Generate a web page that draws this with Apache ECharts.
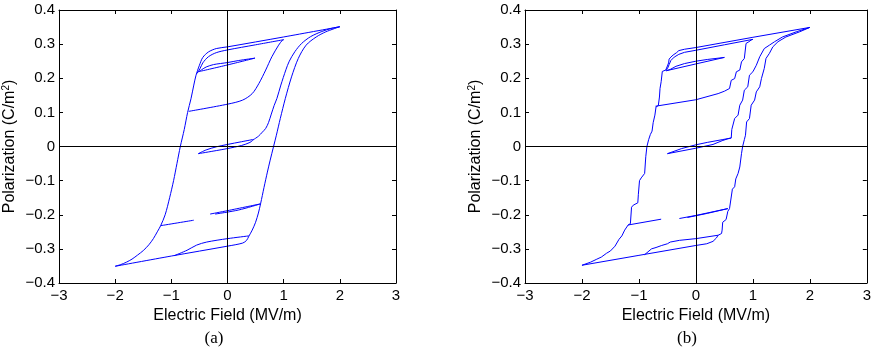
<!DOCTYPE html>
<html>
<head>
<meta charset="utf-8">
<script src="https://cdn.jsdelivr.net/npm/echarts@6/dist/echarts.min.js"></script>
<style>
  html, body { margin: 0; padding: 0; background: #fff; }
  #chart { width: 874px; height: 348px; }
</style>
</head>
<body>
<div id="chart"></div>
<script>
// (a) smooth model — [E (MV/m), P (C/m^2)]
const aMajorDown = [[2.0,0.351],[1.0,0.321],[0.0,0.292],[-0.2,0.287],[-0.34,0.277],[-0.44,0.261],[-0.5,0.238],[-0.56,0.209],[-0.6,0.18],[-0.65,0.14],[-0.71,0.1],[-0.77,0.05],[-0.84,0.0],[-0.9,-0.05],[-0.96,-0.1],[-1.03,-0.15],[-1.11,-0.2],[-1.19,-0.232],[-1.25,-0.25],[-1.32,-0.27],[-1.4,-0.288],[-1.5,-0.305],[-1.6,-0.318],[-1.7,-0.33],[-1.8,-0.339],[-1.9,-0.346],[-2.0,-0.351]];
const aMajorUp = [[-2.0,-0.351],[-1.0,-0.321],[0.0,-0.292],[0.27,-0.283],[0.34,-0.275],[0.38,-0.263],[0.44,-0.245],[0.5,-0.222],[0.55,-0.195],[0.59,-0.167],[0.65,-0.12],[0.71,-0.075],[0.76,-0.04],[0.82,0.0],[0.87,0.033],[0.94,0.082],[1.03,0.141],[1.14,0.204],[1.26,0.258],[1.4,0.297],[1.58,0.321],[1.75,0.336],[2.0,0.351]];
const aInnerRight = [[0.47,0.021],[0.55,0.03],[0.62,0.042],[0.68,0.053],[0.73,0.07],[0.78,0.095],[0.83,0.12],[0.88,0.141],[0.95,0.18],[1.04,0.225],[1.1,0.25],[1.2,0.278],[1.32,0.302],[1.48,0.322],[1.68,0.337],[1.85,0.346],[2.0,0.351]];
const aRise1 = [[-0.69,0.103],[0.0,0.124],[0.27,0.136],[0.44,0.155],[0.56,0.185],[0.68,0.224],[0.79,0.263],[0.91,0.297],[0.98,0.312],[1.0,0.313]];
const aReturn1 = [[1.0,0.313],[0.5,0.298],[0.0,0.283],[-0.2,0.275],[-0.34,0.263],[-0.44,0.245],[-0.49,0.228],[-0.55,0.213]];
const aLoopTopUp = [[-0.52,0.219],[0.0,0.239],[0.49,0.259]];
const aLoopTopDown = [[0.49,0.259],[0.2,0.252],[0.0,0.246],[-0.25,0.24],[-0.38,0.233],[-0.46,0.225],[-0.52,0.219]];
const aLoopZeroUp = [[-0.52,-0.021],[-0.2,-0.012],[0.0,-0.006],[0.25,0.003],[0.4,0.012],[0.47,0.021]];
const aLoopZeroDown = [[0.47,0.021],[0.25,0.014],[0.0,0.006],[-0.2,-0.001],[-0.38,-0.01],[-0.52,-0.021]];
const aLineM23 = [[-1.19,-0.232],[-0.6,-0.216]];
const aLineM19a = [[-0.31,-0.198],[0.0,-0.188],[0.59,-0.168]];
const aLineM19b = [[-0.22,-0.198],[0.2,-0.186],[0.59,-0.168]];
const aReturnLow = [[0.38,-0.262],[0.0,-0.27],[-0.37,-0.28],[-0.55,-0.289],[-0.72,-0.304],[-0.95,-0.32]];

// (b) stepped model
const bMajorDown = [[2.0,0.349],[1.0,0.32],[0.0,0.29],[-0.2,0.285],[-0.3,0.281],[-0.34,0.275],[-0.4,0.268],[-0.44,0.262],[-0.47,0.256],[-0.48,0.245],[-0.5,0.236],[-0.53,0.224],[-0.59,0.22],[-0.61,0.19],[-0.63,0.17],[-0.64,0.145],[-0.66,0.12],[-0.7,0.116],[-0.72,0.092],[-0.75,0.07],[-0.77,0.045],[-0.8,0.035],[-0.83,0.02],[-0.86,0.0],[-0.88,-0.03],[-0.9,-0.079],[-0.96,-0.092],[-0.99,-0.1],[-1.01,-0.14],[-1.02,-0.165],[-1.1,-0.172],[-1.13,-0.178],[-1.15,-0.226],[-1.19,-0.23],[-1.25,-0.245],[-1.3,-0.262],[-1.35,-0.272],[-1.42,-0.292],[-1.5,-0.306],[-1.57,-0.313],[-1.66,-0.324],[-1.75,-0.331],[-1.85,-0.339],[-2.0,-0.348]];
const bMajorUp = [[-2.0,-0.348],[-1.0,-0.319],[0.0,-0.29],[0.19,-0.285],[0.3,-0.278],[0.36,-0.268],[0.39,-0.26],[0.45,-0.255],[0.46,-0.245],[0.47,-0.222],[0.53,-0.214],[0.56,-0.19],[0.59,-0.182],[0.62,-0.18],[0.64,-0.125],[0.68,-0.118],[0.7,-0.095],[0.74,-0.079],[0.77,-0.06],[0.8,-0.021],[0.82,0.0],[0.85,0.02],[0.87,0.033],[0.89,0.072],[0.94,0.082],[0.97,0.121],[1.03,0.136],[1.06,0.16],[1.12,0.175],[1.15,0.199],[1.2,0.229],[1.23,0.258],[1.29,0.273],[1.35,0.292],[1.44,0.307],[1.58,0.321],[1.82,0.336],[2.0,0.349]];
const bInnerRight = [[0.62,0.025],[0.63,0.05],[0.65,0.053],[0.68,0.082],[0.74,0.092],[0.77,0.121],[0.82,0.136],[0.85,0.165],[0.91,0.175],[0.94,0.209],[1.0,0.219],[1.06,0.238],[1.12,0.263],[1.2,0.287],[1.29,0.297],[1.38,0.307],[1.52,0.321],[1.76,0.336],[2.0,0.349]];
const bRise1 = [[-0.71,0.118],[0.0,0.137],[0.39,0.155],[0.5,0.162],[0.59,0.17],[0.62,0.194],[0.68,0.199],[0.71,0.219],[0.77,0.224],[0.8,0.248],[0.85,0.258],[0.88,0.302],[0.93,0.307],[0.97,0.312],[1.0,0.314]];
const bReturn1 = [[1.0,0.314],[0.5,0.298],[0.0,0.282],[-0.2,0.276],[-0.3,0.27],[-0.38,0.262],[-0.44,0.252],[-0.47,0.24],[-0.5,0.228],[-0.53,0.222]];
const bLoopTopUp = [[-0.52,0.222],[0.0,0.242],[0.5,0.261]];
const bLoopTopDown = [[0.5,0.261],[0.2,0.255],[0.0,0.25],[-0.2,0.243],[-0.35,0.235],[-0.45,0.226],[-0.52,0.222]];
const bLoopZeroUp = [[-0.5,-0.021],[0.0,-0.005],[0.3,0.006],[0.46,0.017],[0.55,0.022],[0.62,0.025]];
const bLoopZeroDown = [[0.62,0.025],[0.46,0.02],[0.2,0.012],[0.0,0.005],[-0.25,-0.006],[-0.5,-0.021]];
const bLineM23 = [[-1.19,-0.23],[-0.61,-0.213]];
const bLineM20a = [[-0.29,-0.211],[0.0,-0.202],[0.56,-0.182]];
const bLineM20b = [[-0.15,-0.208],[0.2,-0.196],[0.56,-0.182]];
const bReturnLow = [[0.39,-0.26],[0.0,-0.27],[-0.29,-0.275],[-0.45,-0.28],[-0.5,-0.285],[-0.6,-0.29],[-0.7,-0.296],[-0.78,-0.3],[-0.8,-0.304],[-0.9,-0.317]];

const panelA = [aMajorDown, aMajorUp, aInnerRight, aRise1, aReturn1, aLoopTopUp, aLoopTopDown,
  aLoopZeroUp, aLoopZeroDown, aLineM23, aLineM19a, aLineM19b, aReturnLow];
const panelB = [bMajorDown, bMajorUp, bInnerRight, bRise1, bReturn1, bLoopTopUp, bLoopTopDown,
  bLoopZeroUp, bLoopZeroDown, bLineM23, bLineM20a, bLineM20b, bReturnLow];

const FONT = "'Liberation Sans', Arial, Helvetica, sans-serif";
const LINE_BLUE = "#0000ff";

function tickText(v) {
  if (Math.abs(v) < 1e-9) return "0";
  const s = Number.isInteger(Math.round(v * 1e6) / 1e6) ? String(Math.round(v)) : v.toFixed(1);
  return s.replace("-", "\u2212");
}

function xAxes(gi) {
  const base = {
    type: "value", gridIndex: gi, min: -3, max: 3, interval: 1,
    axisLine: { show: true, onZero: false, lineStyle: { color: "#000", width: 1 } },
    axisTick: { show: true, inside: true, length: 4, lineStyle: { color: "#000" } },
    splitLine: { show: false },
  };
  return [
    Object.assign({}, base, {
      position: "bottom",
      axisLabel: { color: "#000", fontSize: 15, fontFamily: FONT, margin: 5, formatter: tickText },
      name: "Electric Field (MV/m)", nameLocation: "middle", nameGap: 22,
      nameTextStyle: { color: "#000", fontSize: 16, fontFamily: FONT },
    }),
    Object.assign({}, base, { position: "top", axisLabel: { show: false } }),
  ];
}

function yAxes(gi) {
  const base = {
    type: "value", gridIndex: gi, min: -0.4, max: 0.4, interval: 0.1,
    axisLine: { show: true, onZero: false, lineStyle: { color: "#000", width: 1 } },
    axisTick: { show: true, inside: true, length: 4, lineStyle: { color: "#000" } },
    splitLine: { show: false },
  };
  return [
    Object.assign({}, base, {
      position: "left",
      axisLabel: { color: "#000", fontSize: 15, fontFamily: FONT, margin: 4, formatter: tickText },
      name: "Polarization (C/m{sup|2})", nameLocation: "middle", nameGap: 40,
      nameTextStyle: {
        color: "#000", fontSize: 16, fontFamily: FONT, lineHeight: 18,
        rich: { sup: { fontSize: 10, fontFamily: FONT, color: "#000", verticalAlign: "top", lineHeight: 10 } },
      },
    }),
    Object.assign({}, base, { position: "right", axisLabel: { show: false } }),
  ];
}

function curves(list, axisIdx, smooth) {
  return list.map((d, i) => {
    const s = {
      type: "line", xAxisIndex: axisIdx, yAxisIndex: axisIdx, data: d,
      symbol: "none", smooth: smooth, silent: true, animation: false,
      lineStyle: { color: LINE_BLUE, width: 1 }, z: 3,
    };
    if (i === 0) {
      // the black zero lines through the plot
      s.markLine = {
        silent: true, symbol: ["none", "none"], animation: false,
        label: { show: false },
        lineStyle: { color: "#000", width: 1, type: "solid" },
        data: [{ xAxis: 0 }, { yAxis: 0 }],
      };
    }
    return s;
  });
}

const chart = echarts.init(document.getElementById("chart"));

const option = {
  backgroundColor: "#fff",
  animation: false,
  grid: [
    { left: 53, top: 10, width: 343, height: 273 },
    { left: 525, top: 10, width: 343, height: 273 },
  ],
  xAxis: [...xAxes(0), ...xAxes(1)],
  yAxis: [...yAxes(0), ...yAxes(1)],
  series: [...curves(panelA, 0, 0.3), ...curves(panelB, 2, false)],
  graphic: [
    { type: "text", x: 214, y: 339, style: { text: "(a)", fill: "#000", font: "17px 'Liberation Serif', 'DejaVu Serif', serif", textAlign: "center", textVerticalAlign: "middle", align: "center", verticalAlign: "middle" } },
    { type: "text", x: 687, y: 339, style: { text: "(b)", fill: "#000", font: "17px 'Liberation Serif', 'DejaVu Serif', serif", textAlign: "center", textVerticalAlign: "middle", align: "center", verticalAlign: "middle" } },
  ],
};

chart.setOption(option);
</script>
</body>
</html>
